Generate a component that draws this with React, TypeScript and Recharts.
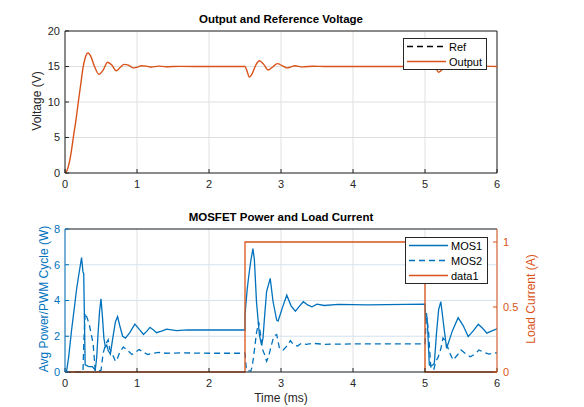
import { LineChart, Line, XAxis, YAxis, CartesianGrid, Legend, ReferenceLine } from "recharts";

const BLUE = "#0072BD";
const ORANGE = "#D95319";
const INK = "#262626";
const FONT = '"Liberation Sans", Arial, Helvetica, sans-serif';

const timeTicks = [0, 1, 2, 3, 4, 5, 6];
const voltTicks = [0, 5, 10, 15, 20];
const powerTicks = [0, 2, 4, 6, 8];
const currentTicks = [0, 0.5, 1];

// output voltage (V) vs time (ms)
const outT = [
  0, 0.03, 0.06, 0.09, 0.12, 0.15, 0.185, 0.22, 0.25, 0.28, 0.32, 0.36, 0.41, 0.47, 0.53, 0.59, 0.65, 0.71,
  0.77, 0.82, 0.88, 0.95, 1.0, 1.06, 1.13, 1.2, 1.3, 1.4, 1.6, 2.0, 2.5, 2.53, 2.56, 2.6, 2.65, 2.7, 2.76,
  2.82, 2.88, 2.95, 3.02, 3.08, 3.14, 3.19, 3.3, 3.45, 3.6, 4.0, 5.0, 5.03, 5.06, 5.12, 5.19, 5.26, 5.32,
  5.39, 5.45, 5.51, 5.57, 5.63, 5.7, 5.8, 6.0,
];
const outV = [
  0, 0.4, 1.5, 3.2, 5.3, 7.3, 10, 12.6, 14.8, 16.2, 16.9, 16.4, 15.0, 13.9, 14.5, 15.6, 15.2, 14.4,
  14.9, 15.3, 15.2, 14.8, 14.9, 15.1, 15.05, 14.92, 15.05, 14.97, 15.02, 15.0, 15.0, 14.3, 13.5, 14.0, 15.2, 15.8, 15.3,
  14.5, 14.9, 15.4, 15.1, 14.8, 14.95, 15.1, 14.95, 15.03, 15.0, 15.0, 15.0, 15.8, 16.4, 15.6, 14.2, 14.8, 15.5,
  15.2, 14.8, 15.0, 15.2, 15.1, 14.95, 15.05, 15.0,
];

// MOS1 average power per PWM cycle (W)
const mos1T = [
  0, 0.02, 0.05, 0.09, 0.13, 0.16, 0.19, 0.21, 0.23, 0.25, 0.26, 0.28, 0.33, 0.38, 0.42, 0.44, 0.46, 0.48, 0.5,
  0.52, 0.54, 0.56, 0.58, 0.6, 0.63, 0.66, 0.7, 0.73, 0.76, 0.8, 0.84, 0.9, 0.97, 1.03, 1.09, 1.14, 1.18, 1.23,
  1.27, 1.35, 1.41, 1.55, 1.7, 2.0, 2.5,
  2.5, 2.53, 2.55, 2.58, 2.61, 2.63, 2.66, 2.7, 2.73, 2.75, 2.77, 2.8, 2.85, 2.89, 2.94, 2.96, 3.02, 3.08, 3.14,
  3.2, 3.26, 3.31, 3.37, 3.43, 3.5, 3.6, 3.8, 4.2, 5.0,
  5.01, 5.03, 5.06, 5.08, 5.11, 5.13, 5.16, 5.19, 5.22, 5.26, 5.3, 5.38, 5.46, 5.53, 5.6, 5.67, 5.74, 5.8, 5.86,
  5.93, 6.0,
];
const mos1W = [
  0, 0, 0.8, 2.3, 3.6, 4.6, 5.4, 5.9, 6.4, 5.6, 5.5, 0.4, 0.3, 0.3, 0.1, 0.8, 2.2, 3.4, 4.1,
  3.1, 1.9, 1.4, 1.5, 1.2, 1.0, 1.8, 2.8, 3.1, 2.6, 2.0, 1.9, 2.2, 2.68, 2.4, 2.1, 2.3, 2.5, 2.35,
  2.2, 2.3, 2.4, 2.32, 2.36, 2.35, 2.35,
  3.2, 4.6, 5.3, 6.2, 6.9, 6.3, 3.9, 2.07, 1.5, 1.9, 3.0, 4.5, 5.24, 3.93, 2.9, 2.85, 3.6, 4.3, 3.7,
  3.4, 3.7, 3.93, 3.75, 3.65, 3.8, 3.72, 3.78, 3.75, 3.8,
  2.9, 3.0, 0.4, 0.35, 0.4, 0.5, 2.2, 3.5, 3.93, 2.6, 1.32, 2.3, 3.04, 2.6, 1.98, 2.3, 2.67, 2.45, 2.17,
  2.3, 2.42,
];

// MOS2 average power per PWM cycle (W)
const mos2T = [
  0, 0.2, 0.25, 0.26, 0.28, 0.31, 0.34, 0.37, 0.39, 0.41, 0.42, 0.47, 0.5, 0.53, 0.56, 0.6, 0.62, 0.66, 0.7,
  0.72, 0.76, 0.81, 0.87, 0.93, 0.98, 1.03, 1.09, 1.15, 1.22, 1.3, 1.4, 1.6, 2.0, 2.5,
  2.52, 2.58, 2.6, 2.63, 2.66, 2.69, 2.72, 2.74, 2.77, 2.8, 2.83, 2.86, 2.9, 2.94, 2.98, 3.03, 3.08, 3.13,
  3.18, 3.23, 3.28, 3.35, 3.45, 3.6, 4.0, 5.0,
  5.02, 5.05, 5.08, 5.12, 5.15, 5.18, 5.22, 5.25, 5.29, 5.34, 5.39, 5.45, 5.5, 5.57, 5.63, 5.69, 5.75, 5.82,
  5.89, 5.96, 6.0,
];
const mos2W = [
  0, 0, 0, 1.5, 3.3, 3.0, 2.6, 2.0, 1.6, 0.6, 0.05, 0.05, 0.1, 1.05, 1.5, 1.8, 1.3, 1.0, 0.6,
  0.67, 1.1, 1.4, 1.2, 0.98, 1.1, 1.26, 1.1, 0.98, 1.05, 1.1, 1.05, 1.07, 1.05, 1.05,
  0.1, 0.05, 0.3, 1.2, 2.2, 2.8, 2.0, 1.3, 1.0, 0.6, 0.9, 1.4, 2.0, 2.1, 1.3, 1.23, 1.45, 1.75,
  1.5, 1.45, 1.6, 1.55, 1.6, 1.55, 1.57, 1.57,
  3.3, 2.2, 0.3, 0.1, 0.6, 0.8, 1.3, 1.9, 1.7, 1.1, 0.67, 0.95, 1.23, 1.0, 0.85, 1.0, 1.23, 1.1,
  1.0, 1.08, 1.05,
];

// load current (A)
const loadT = [0, 2.5, 2.5, 5, 5, 6];
const loadA = [0, 0, 1, 1, 0, 0];

const zip = (ts: number[], vs: number[]) => ts.map((t, i) => ({ t, v: vs[i] }));
const outData = zip(outT, outV);
const mos1Data = zip(mos1T, mos1W);
const mos2Data = zip(mos2T, mos2W);
const loadData = zip(loadT, loadA);

type Item = { label: string; color: string; dash?: string };

function LegendBox({ items }: { items: Item[] }) {
  return (
    <div style={{ border: `1px solid ${INK}`, background: "#fff", fontFamily: FONT, fontSize: 11, color: "#000" }}>
      {items.map((it) => (
        <div key={it.label} style={{ display: "flex", alignItems: "center", height: 15 }}>
          <svg width={44} height={15} style={{ display: "block" }}>
            <line x1={3} x2={42} y1={7.5} y2={7.5} stroke={it.color} strokeWidth={1.3} strokeDasharray={it.dash} />
          </svg>
          <span style={{ marginLeft: 1 }}>{it.label}</span>
        </div>
      ))}
    </div>
  );
}

const tickStyle = { fontSize: 11, fill: INK, fontFamily: FONT };

export default function App() {
  return (
    <div style={{ position: "absolute", left: 0, top: 0, width: 584, height: 407, background: "#fff", fontFamily: FONT }}>
      <div style={{ position: "absolute", left: 65, width: 432, top: 13, textAlign: "center", fontWeight: "bold", fontSize: 11.5, color: "#000" }}>
        Output and Reference Voltage
      </div>
      <div style={{ position: "absolute", left: 65, width: 432, top: 211, textAlign: "center", fontWeight: "bold", fontSize: 11.5, color: "#000" }}>
        MOSFET Power and Load Current
      </div>
      <div style={{ position: "absolute", left: 37 - 60, top: 102 - 8, width: 120, textAlign: "center", fontSize: 12, color: INK, transform: "rotate(-90deg)" }}>
        Voltage (V)
      </div>
      <div style={{ position: "absolute", left: 44 - 90, top: 300 - 8, width: 180, textAlign: "center", fontSize: 12, color: BLUE, transform: "rotate(-90deg)" }}>
        Avg Power/PWM Cycle (W)
      </div>
      <div style={{ position: "absolute", left: 531 - 70, top: 300 - 8, width: 140, textAlign: "center", fontSize: 12, color: ORANGE, transform: "rotate(-90deg)" }}>
        Load Current (A)
      </div>
      <div style={{ position: "absolute", left: 65, width: 432, top: 391, textAlign: "center", fontSize: 12, color: INK }}>
        Time (ms)
      </div>

      <div style={{ position: "absolute", left: 0, top: 0 }}>
        <LineChart width={584} height={203} margin={{ top: 31, right: 87, bottom: 0, left: 0 }}>
          <CartesianGrid stroke="#dfdfdf" verticalPoints={undefined} />
          <XAxis
            dataKey="t"
            type="number"
            domain={[0, 6]}
            ticks={timeTicks}
            allowDataOverflow
            height={30}
            tick={tickStyle}
            tickSize={-4}
            tickMargin={11}
            stroke={INK}
            axisLine={{ stroke: INK }}
          />
          <YAxis
            type="number"
            domain={[0, 20]}
            ticks={voltTicks}
            width={65}
            tick={tickStyle}
            tickSize={-4}
            tickMargin={9}
            stroke={INK}
          />
          <ReferenceLine x={6} stroke={INK} />
          <ReferenceLine y={20} stroke={INK} />
          <Line data={outData} dataKey="v" type="monotone" stroke={ORANGE} strokeWidth={1.4} dot={false} isAnimationActive={false} name="Output" />
          <Legend
            layout="vertical"
            align="center"
            verticalAlign="middle"
            wrapperStyle={{ left: 403, top: 38, width: 84 }}
            content={() => (
              <LegendBox
                items={[
                  { label: "Ref", color: "#000", dash: "6 4" },
                  { label: "Output", color: ORANGE },
                ]}
              />
            )}
          />
        </LineChart>
      </div>

      <div style={{ position: "absolute", left: 0, top: 203 }}>
        <LineChart width={584} height={204} margin={{ top: 26, right: 0, bottom: 0, left: 0 }}>
          <CartesianGrid stroke="#dfdfdf" horizontal={false} />
          <CartesianGrid stroke="#d3e3f0" vertical={false} yAxisId="left" />
          <XAxis
            dataKey="t"
            type="number"
            domain={[0, 6]}
            ticks={timeTicks}
            allowDataOverflow
            height={35}
            tick={tickStyle}
            tickSize={-4}
            tickMargin={11}
            stroke={INK}
          />
          <YAxis
            yAxisId="left"
            type="number"
            domain={[0, 8]}
            ticks={powerTicks}
            width={65}
            tick={{ ...tickStyle, fill: BLUE }}
            tickSize={-4}
            tickMargin={9}
            stroke={BLUE}
          />
          <YAxis
            yAxisId="right"
            orientation="right"
            type="number"
            domain={[0, 1.1]}
            ticks={currentTicks}
            width={87}
            tick={{ ...tickStyle, fill: ORANGE }}
            tickSize={-4}
            tickMargin={10}
            stroke={ORANGE}
          />
          <ReferenceLine y={8} yAxisId="left" stroke={INK} />
          <Line data={mos1Data} dataKey="v" yAxisId="left" type="linear" stroke={BLUE} strokeWidth={1.3} dot={false} isAnimationActive={false} name="MOS1" />
          <Line data={mos2Data} dataKey="v" yAxisId="left" type="linear" stroke={BLUE} strokeWidth={1.3} strokeDasharray="6 4" dot={false} isAnimationActive={false} name="MOS2" />
          <Line data={loadData} dataKey="v" yAxisId="right" type="linear" stroke={ORANGE} strokeWidth={1.3} dot={false} isAnimationActive={false} name="data1" />
          <Legend
            layout="vertical"
            align="center"
            verticalAlign="middle"
            wrapperStyle={{ left: 405, top: 34, width: 83 }}
            content={() => (
              <LegendBox
                items={[
                  { label: "MOS1", color: BLUE },
                  { label: "MOS2", color: BLUE, dash: "6 4" },
                  { label: "data1", color: ORANGE },
                ]}
              />
            )}
          />
        </LineChart>
      </div>
    </div>
  );
}
